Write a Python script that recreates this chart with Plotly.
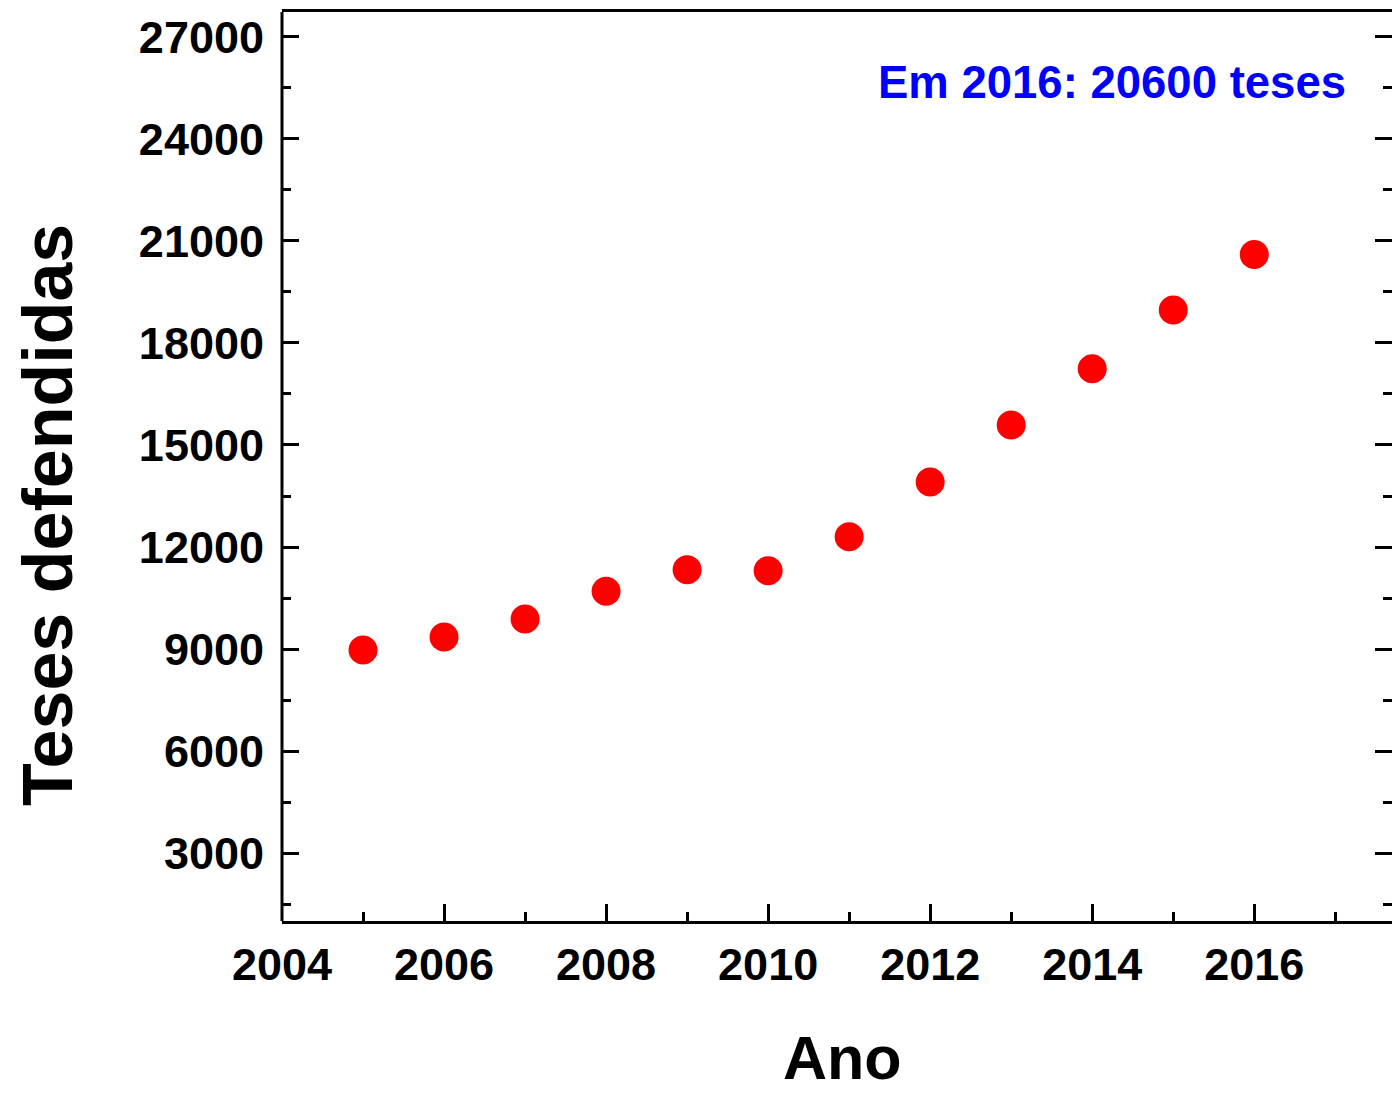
import plotly.graph_objects as go

# Teses de doutorado defendidas por ano
anos = [2005, 2006, 2007, 2008, 2009, 2010, 2011, 2012, 2013, 2014, 2015, 2016]
teses = [8970, 9350, 9880, 10700, 11330, 11300, 12300, 13910, 15590, 17240, 18970, 20600]

destaque = "Em 2016: 20600 teses"
titulo_x = "Ano"
titulo_y = "Teses defendidas"

FONT = "Liberation Sans, Arial, sans-serif"

# área do gráfico em pixels
L, T, B, W, H = 282, 12, 173, 1392, 1094
PW, PH = W - L, H - T - B

def px_x(px):
    return (px - L) / PW

def px_y(py):
    return (H - B - py) / PH

fig = go.Figure()
fig.add_trace(go.Scatter(
    x=anos, y=teses, mode="markers",
    marker=dict(color="#FF0000", size=29, line=dict(width=0)),
    showlegend=False,
))

fig.update_layout(
    width=W, height=H,
    margin=dict(l=L, r=0, t=T, b=B),
    plot_bgcolor="white", paper_bgcolor="white",
    font=dict(family=FONT, color="black"),
)

fig.update_xaxes(
    range=[2004, 2017.7],
    tick0=2004, dtick=2,
    ticks="inside", ticklen=17, tickwidth=3, tickcolor="black",
    minor=dict(ticks="inside", dtick=1, ticklen=9, tickwidth=3, tickcolor="black"),
    showline=True, linewidth=3, linecolor="black", mirror=True,
    showgrid=False, zeroline=False,
    tickfont=dict(size=45, family=FONT, weight="bold"),
    ticklabelstandoff=2,
)

fig.update_yaxes(
    range=[1000, 27735],
    tick0=0, dtick=3000, tickformat="d",
    ticks="inside", ticklen=17, tickwidth=3, tickcolor="black",
    minor=dict(ticks="inside", dtick=1500, ticklen=9, tickwidth=3, tickcolor="black"),
    showline=False, mirror="ticks",
    showgrid=False, zeroline=False,
    tickfont=dict(size=45, family=FONT, weight="bold"),
    ticklabelstandoff=17,
)

# linha do eixo esquerdo
fig.add_shape(type="line", xref="paper", yref="paper", x0=0, x1=0, y0=0, y1=1,
              line=dict(color="black", width=3))

# títulos dos eixos
fig.add_annotation(
    text=f"<b>{titulo_x}</b>", xref="paper", yref="paper",
    x=px_x(842), y=px_y(1058), xanchor="center", yanchor="middle",
    showarrow=False, borderpad=0, font=dict(size=61, family=FONT, color="black"),
)
fig.add_annotation(
    text=f"<b>{titulo_y}</b>", xref="paper", yref="paper", textangle=-90,
    x=px_x(48), y=px_y(515), xanchor="center", yanchor="middle",
    showarrow=False, font=dict(size=70, family=FONT, color="black"),
)

fig.add_annotation(
    text=f"<b>{destaque}</b>",
    xref="paper", yref="paper", x=px_x(1348), y=px_y(82),
    xanchor="right", yanchor="middle", showarrow=False,
    font=dict(size=45.5, family=FONT, color="#0000FF"),
)

fig.write_html("out.html")
